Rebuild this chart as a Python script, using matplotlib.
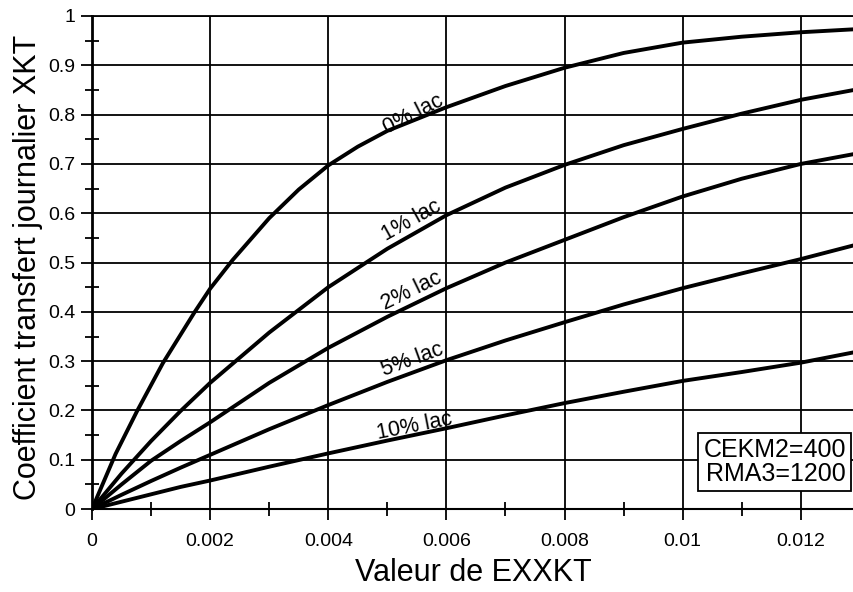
import numpy as np
import matplotlib.pyplot as plt
from matplotlib.ticker import MultipleLocator

plt.rcParams['font.family'] = ['Liberation Sans', 'DejaVu Sans']

# Valeurs (x de EXXKT, y de XKT)
x_0 = [0, 0.0004, 0.00076, 0.0012, 0.00174, 0.002, 0.00238, 0.003,
       0.0035, 0.004, 0.0045, 0.005, 0.006, 0.007, 0.008, 0.009, 0.010,
       0.011, 0.012, 0.0129]
lac_0 = [0, 0.112, 0.198, 0.296, 0.40, 0.447, 0.505, 0.59, 0.648, 0.697,
         0.735, 0.767, 0.815, 0.858, 0.895, 0.925, 0.946, 0.958, 0.967,
         0.973]

x = [0, 0.0005, 0.001, 0.0015, 0.002, 0.003, 0.004, 0.005, 0.006, 0.007,
     0.008, 0.009, 0.010, 0.011, 0.012, 0.0129]
lac_1 = [0, 0.072, 0.138, 0.199, 0.256, 0.358, 0.45, 0.528, 0.596, 0.652,
         0.698, 0.738, 0.771, 0.802, 0.830, 0.850]
lac_2 = [0, 0.05, 0.098, 0.138, 0.176, 0.256, 0.327, 0.39, 0.448, 0.50,
         0.546, 0.592, 0.634, 0.67, 0.70, 0.72]
lac_5 = [0, 0.029, 0.057, 0.084, 0.11, 0.162, 0.211, 0.258, 0.302, 0.342,
         0.379, 0.415, 0.448, 0.478, 0.507, 0.535]
lac_10 = [0, 0.015, 0.030, 0.045, 0.058, 0.086, 0.113, 0.139, 0.164, 0.19,
          0.215, 0.238, 0.26, 0.278, 0.297, 0.318]

series = [(x_0, lac_0), (x, lac_1), (x, lac_2), (x, lac_5), (x, lac_10)]
labels = ['0% lac', '1% lac', '2% lac', '5% lac', '10% lac']
label_pos = [(0.00548, 0.79, 27), (0.00545, 0.575, 29), (0.00545, 0.432, 26),
             (0.00545, 0.293, 20), (0.00548, 0.157, 11)]

fig = plt.figure(figsize=(8.54, 5.92), dpi=100)
ax = fig.add_axes([0.1077, 0.140, 0.8923, 0.833])

for xs, ys in series:
    ax.plot(xs, ys, color='black', lw=2.8, solid_capstyle='butt',
            solid_joinstyle='round', zorder=3)

for lab, (lx, ly, rot) in zip(labels, label_pos):
    ax.text(lx, ly, lab, rotation=rot, fontsize=15.5, ha='center',
            va='baseline', rotation_mode='anchor', zorder=4)

ax.set_xlim(0, 0.0129)
ax.set_ylim(0, 1)
ax.xaxis.set_minor_locator(MultipleLocator(0.001))
ax.yaxis.set_minor_locator(MultipleLocator(0.05))
ax.set_xticks([0, 0.002, 0.004, 0.006, 0.008, 0.01, 0.012])
ax.set_xticklabels(['0', '0.002', '0.004', '0.006', '0.008', '0.01', '0.012'])
ax.set_yticks(np.round(np.arange(0, 1.01, 0.1), 1))
ax.set_yticklabels(['0', '0.1', '0.2', '0.3', '0.4', '0.5', '0.6', '0.7',
                    '0.8', '0.9', '1'])
ax.grid(True, which='major', color='black', lw=1.3)
ax.tick_params(which='major', direction='out', length=8, width=1.3,
               labelsize=14)
ax.tick_params(axis='y', which='major', pad=4)
ax.tick_params(axis='x', which='major', pad=9)
ax.tick_params(which='minor', direction='inout', length=10, width=1.3)

ax.spines['right'].set_visible(False)
ax.spines['left'].set_linewidth(2)
ax.spines['bottom'].set_linewidth(1.5)
ax.spines['top'].set_linewidth(1.3)

ax.set_xlabel('Valeur de EXXKT', fontsize=22, labelpad=6)
ax.set_ylabel('Coefficient transfert journalier XKT', fontsize=22)
ax.yaxis.set_label_coords(-0.064, 0.49)

ax.text(0.9895, 0.046, 'CEKM2=400\nRMA3=1200', transform=ax.transAxes,
        ha='right', va='bottom', fontsize=18, linespacing=1.0, zorder=5,
        bbox=dict(boxstyle='square,pad=0.2', fc='white', ec='black', lw=1.3))

fig.savefig('out.png', dpi=100)
